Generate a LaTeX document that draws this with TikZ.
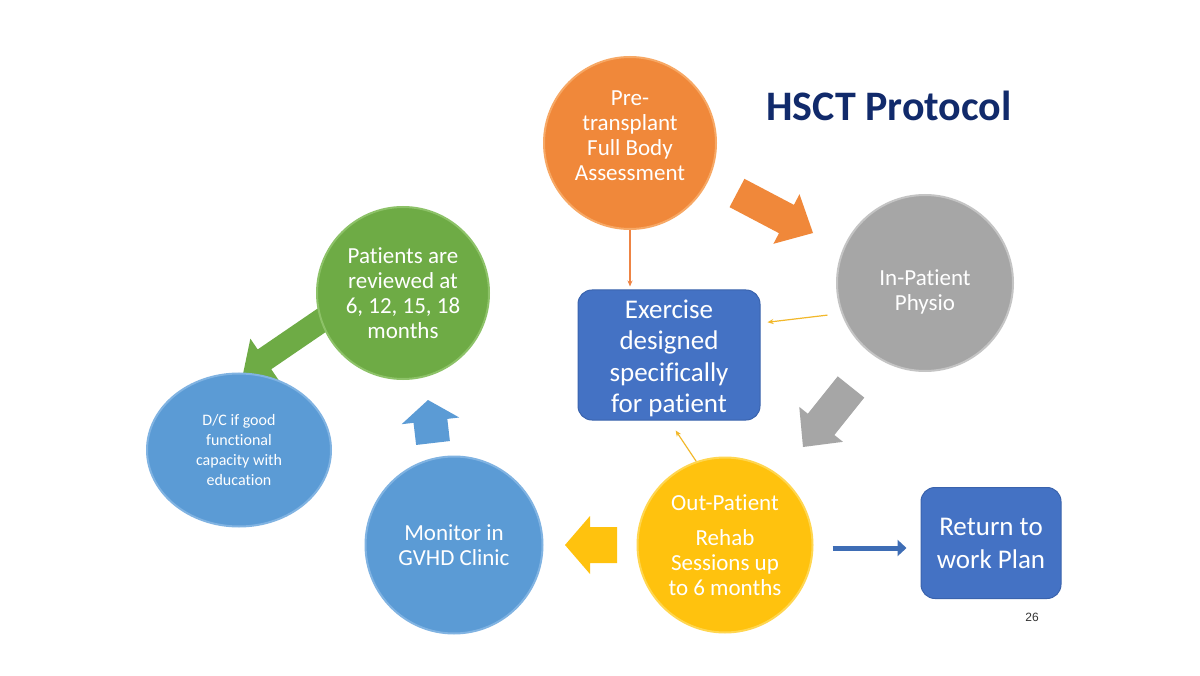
\documentclass[tikz,border=0pt]{standalone}
\usepackage{fontspec}
\setmainfont{Carlito}[Ligatures=NoCommon]
\newfontfamily\arialf{Liberation Sans}
\usetikzlibrary{calc,shapes.geometric,arrows.meta}

\definecolor{orangeC}{HTML}{F0883A}
\definecolor{orangeR}{HTML}{F7A865}
\definecolor{grayC}{HTML}{A6A6A6}
\definecolor{grayR}{HTML}{C4C4C4}
\definecolor{greenC}{HTML}{6EAB45}
\definecolor{greenR}{HTML}{8DC268}
\definecolor{blueC}{HTML}{5B9BD5}
\definecolor{blueR}{HTML}{80B3E2}
\definecolor{yellowC}{HTML}{FFC20E}
\definecolor{yellowR}{HTML}{FFD650}
\definecolor{boxblue}{HTML}{4472C4}
\definecolor{boxedge}{HTML}{3A63AD}
\definecolor{navy}{HTML}{112A6B}
\definecolor{thinorange}{HTML}{EE8444}
\definecolor{thinyellow}{HTML}{F2B82A}
\definecolor{connblue}{HTML}{3E6DB5}
\definecolor{numgray}{HTML}{333333}

\newcommand\blockarrow[6]{%
  \coordinate (tmpc) at ($(#3)!#6!(#2)$);
  \fill[#1] ($(#2)!#4!90:(#3)$) -- ($(tmpc)!#4!90:(#3)$) -- ($(tmpc)!#5!90:(#3)$)
    -- (#3) -- ($(tmpc)!#5!-90:(#3)$) -- ($(tmpc)!#4!-90:(#3)$)
    -- ($(#2)!#4!-90:(#3)$) -- cycle;
}

\tikzset{
  bub/.style={circle, inner sep=0pt, align=center, text=white,
    font=\fontsize{23}{25}\selectfont, line width=2pt},
  bluebox/.style={rounded corners=14pt, fill=boxblue, draw=boxedge, line width=1pt,
    text=white, align=center, inner sep=0pt},
  thinarr/.style={line width=1.2pt, -{Stealth[length=6pt,width=5pt]}},
}

\begin{document}
\begin{tikzpicture}[x=1pt,y=-1pt]
\useasboundingbox[fill=white] (0,0) rectangle (1200,676);

% title
\node[text=navy, font=\fontsize{42}{42}\selectfont\bfseries] (title) at (889,106) {HSCT Protocol};

% block arrow end points
\coordinate (oA) at (737,193);
\coordinate (oB) at (813,233);
\coordinate (gA) at (851,387);
\coordinate (gB) at (803,447);
\coordinate (yA) at (617,545);
\coordinate (yB) at (565,545);
\coordinate (bA) at (433,443);
\coordinate (bB) at (428,400);
\coordinate (grA) at (325,318);
\coordinate (grB) at (243,374);

% green block arrow (under circles)
\blockarrow{greenC}{grA}{grB}{12pt}{25pt}{26pt}

% circles
\node[bub, minimum size=172pt, fill=orangeC, draw=orangeR] (pre) at (630,143)
  {Pre-\\transplant\\Full Body\\Assessment\\[-11pt]\mbox{}};
\node[bub, minimum size=176pt, fill=grayC, draw=grayR] (inp) at (925,283)
  {\mbox{}\\[9pt]In-Patient\\Physio};
\node[bub, minimum size=172pt, fill=greenC, draw=greenR] (rev) at (403,293)
  {Patients are\\reviewed at\\6, 12, 15, 18\\months};
\node[ellipse, inner sep=0pt, minimum width=184pt, minimum height=153pt, fill=blueC, draw=blueR,
  line width=2pt, align=center, text=white, font=\fontsize{16}{20}\selectfont] (dc) at (239,450)
  {D/C if good\\functional\\capacity with\\education};
\node[bub, minimum size=177pt, fill=blueC, draw=blueR] (mon) at (454,545)
  {Monitor in\\GVHD Clinic};
\node[bub, minimum size=175pt, fill=yellowC, draw=yellowR] (out) at (725,545)
  {Out-Patient\\[10pt]Rehab\\Sessions up\\to 6 months};

% boxes
\node[bluebox, minimum width=182pt, minimum height=130pt,
  font=\fontsize{27}{31.5}\selectfont] (ex) at (669,355)
  {\mbox{}\\[-6pt]Exercise\\designed\\specifically\\for patient};
\node[bluebox, minimum width=140pt, minimum height=111pt,
  font=\fontsize{27}{33}\selectfont] (ret) at (991,543)
  {Return to\\work Plan};

% block arrows
\blockarrow{orangeC}{oA}{oB}{16pt}{28pt}{30pt}
\blockarrow{grayC}{gA}{gB}{17pt}{28pt}{29pt}
\blockarrow{yellowC}{yA}{yB}{18pt}{29pt}{25pt}
\blockarrow{blueC}{bA}{bB}{17pt}{29pt}{21pt}

% thin connectors
\draw[thinarr, thinorange, shorten >=3pt] (pre.south) -- (pre.south |- ex.north);
\draw[thinarr, thinyellow, shorten <=14pt] (inp.200) -- ([xshift=7pt]$(ex.north east)!0.25!(ex.south east)$);
\draw[thinarr, thinyellow, shorten >=12pt] (out.109) -- (ex.south);
\draw[line width=5pt, connblue, -{Triangle[length=9pt,width=16pt]}, shorten <=19pt, shorten >=14pt]
  ([yshift=-3pt]out.east) -- ([yshift=-3pt]out.east -| ret.west);

% page number
\node[text=numgray, font=\arialf\fontsize{12}{12}\selectfont] (pnum) at (1032,617) {26};
\end{tikzpicture}
\end{document}
